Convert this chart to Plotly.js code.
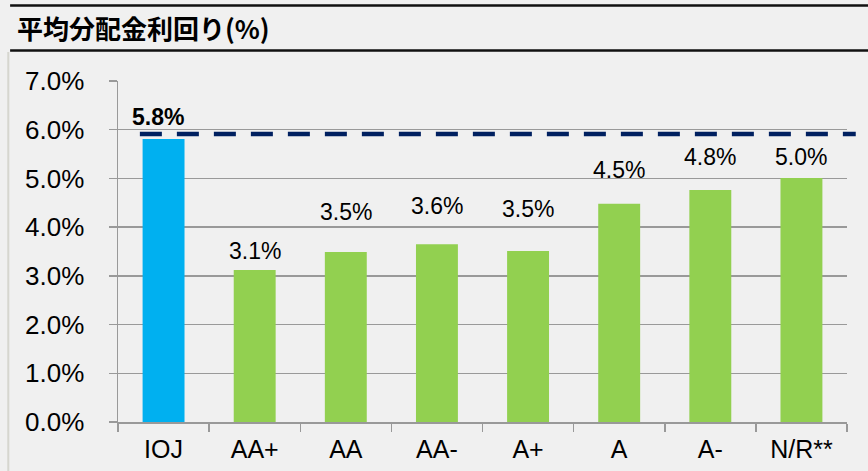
<!DOCTYPE html>
<html>
<head>
<meta charset="utf-8">
<script src="https://cdn.plot.ly/plotly-3.0.1.min.js"></script>
<style>html,body{margin:0;padding:0;background:#f0f0f0;}</style>
</head>
<body>
<div id="chart" style="width:868px;height:471px;"></div>
<script>
// ---- data ----
const categories = ["IOJ", "AA+", "AA", "AA-", "A+", "A", "A-", "N/R**"];
const yields = [5.81, 3.12, 3.49, 3.65, 3.51, 4.48, 4.76, 5.01];
const labels = ["5.8%", "3.1%", "3.5%", "3.6%", "3.5%", "4.5%", "4.8%", "5.0%"];
const avgLine = 5.91;
const chartTitle = "平均分配金利回り(%)";

// ---- styling (not data) ----
const barColors = categories.map((c, i) => i === 0 ? "#00B0F0" : "#92D050");
const labelLift = [22, 19, 40, 38, 42, 34, 33, 21];
const grey = "#999999";
const font = "Liberation Sans, Arial, sans-serif";

const trace = {
  type: "bar",
  x: categories,
  y: yields,
  marker: { color: barColors, line: { width: 0 } },
  hoverinfo: "skip"
};

const annotations = categories.map((c, i) => ({
  x: c, y: yields[i], xref: "x", yref: "y",
  text: i === 0 ? "<b>" + labels[i] + "</b>" : labels[i],
  showarrow: false, yanchor: "middle", xanchor: "center",
  yshift: labelLift[i], xshift: i === 0 ? -6 : 0,
  font: { family: font, size: 23, color: "#000" }
}));

const layout = {
  width: 868, height: 471,
  margin: { l: 118, r: 21, t: 81, b: 49, pad: 0 },
  paper_bgcolor: "#f0f0f0",
  plot_bgcolor: "#f0f0f0",
  showlegend: false,
  bargap: 0.54,
  title: {
    text: "<b>" + chartTitle + "</b>",
    x: 17 / 868, xanchor: "left", xref: "container",
    y: 1 - 30 / 471, yanchor: "middle", yref: "container",
    font: { family: "Noto Sans CJK JP, sans-serif", size: 26, color: "#000" }
  },
  xaxis: {
    type: "category",
    showgrid: false,
    showline: true, linecolor: grey, linewidth: 1.5,
    ticks: "outside", tickson: "boundaries", ticklen: 8, tickcolor: grey, tickwidth: 1.5,
    tickfont: { family: font, size: 25, color: "#000" },
    ticklabelstandoff: 4,
    fixedrange: true
  },
  yaxis: {
    range: [0, 7], dtick: 1, tick0: 0,
    tickformat: ".1f", ticksuffix: "%",
    showgrid: true, gridcolor: grey, gridwidth: 1.5,
    zeroline: false,
    showline: true, linecolor: grey, linewidth: 1.5,
    ticks: "outside", ticklen: 8, tickcolor: grey, tickwidth: 1.5,
    tickfont: { family: font, size: 26, color: "#000" },
    ticklabelstandoff: 19,
    fixedrange: true
  },
  annotations: annotations,
  shapes: [
    { type: "line", xref: "paper", yref: "y", x0: 0.030, x1: 1.012, y0: avgLine, y1: avgLine,
      line: { color: "#002060", width: 4.5, dash: "22px,15px" } },
    { type: "line", xref: "paper", yref: "paper", x0: -0.148, x1: 1.03, y0: 1.2214, y1: 1.2214,
      line: { color: "#111", width: 2.5 } },
    { type: "line", xref: "paper", yref: "paper", x0: -0.148, x1: 1.03, y0: 1.0894, y1: 1.0894,
      line: { color: "#111", width: 2.5 } },
    { type: "line", xref: "paper", yref: "paper", x0: -0.1505, x1: -0.1505, y0: 1.085, y1: -0.15,
      line: { color: "#d6d6cf", width: 2 } }
  ]
};

Plotly.newPlot("chart", [trace], layout, { staticPlot: true, displayModeBar: false });
</script>
</body>
</html>
